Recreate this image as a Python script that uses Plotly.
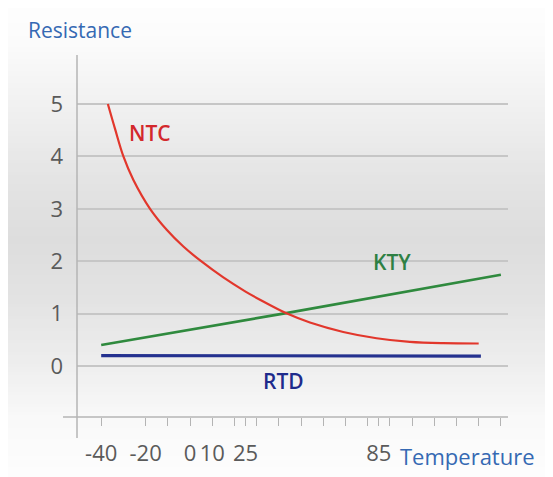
import plotly.graph_objects as go

# ---------------- data ----------------
tick_temps = [-40, -20, -10, 0, 10, 20, 25, 30, 40, 50, 60, 70, 80, 85, 90, 100, 110, 120, 130, 140]
tick_labels = ["-40", "-20", "", "0", "10", "", "25", "", "", "", "", "", "", "85", "", "", "", "", "", ""]
res_ticks = [0, 1, 2, 3, 4, 5]

ntc_temp = [-37, -33.8, -30, -25.5, -18, -10.5, -3, 5, 15, 25, 31.5, 43.7, 54, 69, 84, 99, 114, 130]
ntc_res = [5.0, 4.53, 4.0, 3.55, 3.0, 2.6, 2.28, 2.0, 1.69, 1.42, 1.265, 1.0, 0.83, 0.65, 0.53,
           0.46, 0.435, 0.43]

kty_temp = [-40, 42, 140]
kty_res = [0.40, 1.0, 1.74]

rtd_temp = [-40, 131]
rtd_res = [0.20, 0.19]

# ---------------- layout geometry ----------------
W, H = 553, 477
OFF = 8  # page body margin of the browser
ML, MT = 77 - OFF, 55 - OFF
MR = W - (508 - OFF)
MB = H - (417 - OFF)
PW, PH = W - ML - MR, H - MT - MB
FONT = "Open Sans, Noto Sans, Liberation Sans, sans-serif"


def px_x(px):  # px given in window (page) pixels
    return (px - OFF - ML) / PW


def px_y(py):
    return (H - MB - (py - OFF)) / PH


fig = go.Figure()

fig.add_trace(go.Scatter(x=rtd_temp, y=rtd_res, mode="lines",
                         line=dict(color="#24318f", width=3.2), hoverinfo="skip"))
fig.add_trace(go.Scatter(x=kty_temp, y=kty_res, mode="lines",
                         line=dict(color="#2f8a3e", width=2.6, shape="spline"), hoverinfo="skip"))
fig.add_trace(go.Scatter(x=ntc_temp, y=ntc_res, mode="lines",
                         line=dict(color="#e2372c", width=2.2, shape="spline", smoothing=1.0),
                         hoverinfo="skip"))

shapes = []
# vertical gradient background
stops = [(0, 254), (45, 251), (110, 240), (180, 228), (240, 221), (300, 227),
         (360, 237), (420, 249), (477, 253)]


def gray_at(py):
    for (a, ga), (b, gb) in zip(stops[:-1], stops[1:]):
        if a <= py <= b:
            t = (py - a) / (b - a)
            return ga + (gb - ga) * t
    return stops[-1][1]


step = 4
for py in range(0, H + 10, step):
    g = int(round(gray_at(min(py + step / 2, 477))))
    shapes.append(dict(type="rect", xref="paper", yref="paper",
                       x0=px_x(-5), x1=px_x(W + 20), y0=px_y(py + step + 0.5), y1=px_y(py - 0.5),
                       line=dict(width=0), fillcolor=f"rgb({g},{g},{g})", layer="below"))
# axis lines (extend past each other like the reference)
shapes.append(dict(type="line", xref="paper", yref="paper",
                   x0=0, x1=0, y0=px_y(438), y1=1,
                   line=dict(color="#b4b4b4", width=1.5)))
shapes.append(dict(type="line", xref="paper", yref="paper",
                   x0=px_x(63), x1=1, y0=0, y1=0,
                   line=dict(color="#b4b4b4", width=1.5)))

annotations = [
    dict(text="Resistance", xref="paper", yref="paper", x=px_x(26), y=px_y(30),
         xanchor="left", yanchor="middle", showarrow=False,
         font=dict(family=FONT, size=21, color="#3569b3")),
    dict(text="Temperature", xref="paper", yref="paper", x=px_x(398), y=px_y(456),
         xanchor="left", yanchor="middle", showarrow=False,
         font=dict(family=FONT, size=22, color="#3569b3")),
    dict(text="NTC", x=-18, y=4.45, xref="x", yref="y", showarrow=False,
         font=dict(family=FONT, size=21, color="#d3282c", weight=600)),
    dict(text="KTY", x=91, y=1.98, xref="x", yref="y", showarrow=False,
         font=dict(family=FONT, size=21, color="#2e8044", weight=600)),
    dict(text="RTD", x=42, y=-0.29, xref="x", yref="y", showarrow=False,
         font=dict(family=FONT, size=21, color="#1e2b8c", weight=600)),
]

fig.update_layout(
    width=W, height=H,
    margin=dict(l=ML, r=MR, t=MT, b=MB, pad=0),
    paper_bgcolor="white",
    plot_bgcolor="rgba(0,0,0,0)",
    showlegend=False,
    shapes=shapes,
    annotations=annotations,
    font=dict(family=FONT, color="#5a5a5a"),
)
fig.update_xaxes(
    range=[-50.9, 143.2], tickmode="array", tickvals=tick_temps, ticktext=tick_labels,
    ticks="outside", ticklen=8, tickwidth=1, tickcolor="#b4b4b4",
    showgrid=False, zeroline=False, showline=False,
    tickfont=dict(family=FONT, size=22, color="#5a5a5a"), ticklabelstandoff=9,
)
fig.update_yaxes(
    range=[-0.973, 5.935], tickmode="array", tickvals=res_ticks,
    ticks="", showgrid=True, gridcolor="#c6c6c6", gridwidth=1.5,
    zeroline=False, showline=False,
    tickfont=dict(family=FONT, size=22, color="#5a5a5a"), ticklabelstandoff=13,
)

fig.write_html("out.html")
